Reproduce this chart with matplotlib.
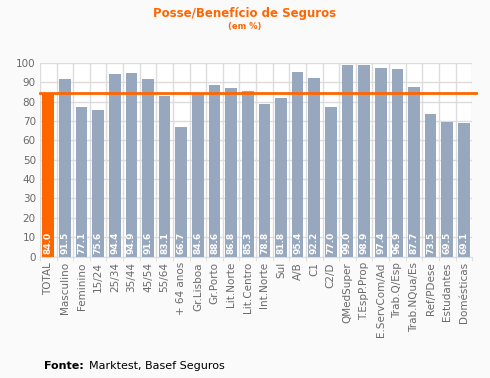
import matplotlib
import matplotlib.pyplot as plt
import numpy as np

matplotlib.use("Agg")

categories = [
    "TOTAL", "Masculino", "Feminino", "15/24", "25/34", "35/44", "45/54",
    "55/64", "+ 64 anos", "Gr.Lisboa", "Gr.Porto", "Lit.Norte", "Lit.Centro",
    "Int.Norte", "Sul", "A/B", "C1", "C2/D", "QMedSuper", "T.EspP.Prop",
    "E.ServCom/Ad", "Trab.Q/Esp", "Trab.NQua/Es", "Ref/PDese", "Estudantes",
    "Domésticas",
]
values = [
    84.0, 91.5, 77.1, 75.6, 94.4, 94.9, 91.6, 83.1, 66.7, 84.6, 88.6, 86.8,
    85.3, 78.8, 81.8, 95.4, 92.2, 77.0, 99.0, 98.9, 97.4, 96.9, 87.7, 73.5,
    69.5, 69.1,
]
reference_line = 84.6

ORANGE = "#ff6600"
BLUE = "#97a7bd"
GRID = "#dcdcdc"
TEXT = "#6a6a6a"


def main() -> None:
    fig = plt.figure(figsize=(4.9, 3.78), dpi=100, facecolor="#fafafa")
    ax = fig.add_axes([0.0816, 0.321, 0.882, 0.513])
    ax.set_facecolor("white")

    x = np.arange(len(categories))
    colors = [ORANGE] + [BLUE] * (len(categories) - 1)
    ax.bar(x, values, width=0.7, color=colors, zorder=2)

    for xi, v in zip(x, values):
        ax.text(xi, 1.2, f"{v:.1f}", rotation=90, ha="center", va="bottom",
                color="white", fontsize=6.5, fontweight="bold", zorder=3)

    ax.axhline(reference_line, color=ORANGE, lw=2, zorder=4, clip_on=False,
               xmin=0, xmax=1.008)

    ax.set_xlim(-0.5, len(categories) - 0.5)
    ax.set_ylim(0, 100)
    ax.set_yticks(range(0, 101, 10))
    ax.set_xticks(x)
    ax.set_xticklabels(categories, rotation=90, fontsize=7.5, color=TEXT)
    ax.tick_params(axis="x", length=0, pad=4)
    ax.tick_params(axis="y", length=0, labelsize=7.5, labelcolor=TEXT, pad=3)

    ax.set_xticks(np.arange(-0.5, len(categories), 1), minor=True)
    ax.tick_params(axis="x", which="minor", length=3, color=GRID)
    ax.grid(True, which="minor", axis="x", color=GRID, lw=1, zorder=0)
    ax.grid(True, which="major", axis="y", color=GRID, lw=1, zorder=0)
    for s in ax.spines.values():
        s.set_visible(False)
    ax.spines["bottom"].set_visible(True)
    ax.spines["bottom"].set_color(GRID)

    fig.text(0.5, 1 - 14 / 378, "Posse/Benefício de Seguros", ha="center",
             va="center", color=ORANGE, fontsize=8.5, fontweight="bold")
    fig.text(0.5, 1 - 27 / 378, "(em %)", ha="center", va="center",
             color=ORANGE, fontsize=6, fontweight="bold")

    fig.text(44 / 490, 1 - 366 / 378, "Fonte:", ha="left", va="center",
             fontsize=8, fontweight="bold", color="black")
    fig.text(89 / 490, 1 - 366 / 378, "Marktest, Basef Seguros", ha="left",
             va="center", fontsize=8, color="black")

    fig.savefig("out.png", dpi=100, facecolor=fig.get_facecolor())
    plt.close(fig)


if __name__ == "__main__":
    main()
